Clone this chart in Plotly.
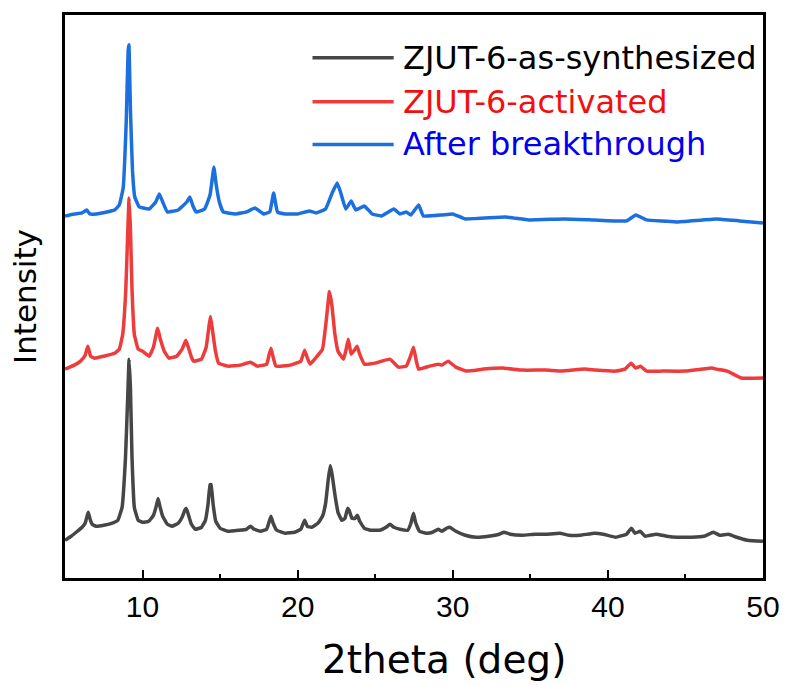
import plotly.graph_objects as go

# ---- data (2theta in deg, intensity in arbitrary units, stacked as displayed) ----
x_syn = [5.0, 5.4, 5.8, 6.1, 6.3, 6.42, 6.5, 6.6, 6.75, 7.0, 7.5, 8.0, 8.4, 8.68, 8.9, 9.05, 9.13, 9.22,
         9.32, 9.47, 9.72, 10.0, 10.4, 10.7, 10.88, 11.0, 11.12, 11.3, 11.6, 11.9, 12.3, 12.55, 12.72,
         12.82, 12.95, 13.15, 13.4, 13.8, 14.05, 14.22, 14.35, 14.42, 14.55, 14.72, 15.0, 15.5, 16.2,
         16.7, 16.95, 17.2, 17.6, 18.0, 18.15, 18.28, 18.42, 18.65, 19.2, 19.8, 20.2, 20.45, 20.62,
         20.9, 21.3, 21.6, 21.8, 21.98, 22.1, 22.22, 22.4, 22.6, 22.85, 23.05, 23.22, 23.32, 23.5,
         23.7, 23.85, 24.0, 24.3, 24.7, 25.3, 25.7, 25.95, 26.2, 26.6, 27.1, 27.3, 27.47, 27.6, 27.85,
         28.3, 28.7, 29.06, 29.3, 29.6, 29.8, 30.2, 30.8, 31.5, 32.3, 33.0, 33.3, 33.7, 34.5, 35.3,
         36.0, 36.9, 37.5, 38.2, 39.15, 39.7, 40.5, 41.2, 41.51, 41.75, 42.08, 42.4, 43.1, 43.8, 44.5,
         45.4, 46.2, 46.8, 47.2, 47.77, 48.3, 49.0, 50.0]
y_syn = [38, 42, 47, 51, 55, 62, 66, 60, 54, 52, 53, 55, 58, 71, 121, 185, 220, 190,
         121, 71, 58, 56, 57, 63, 72, 80, 72, 62, 54, 52, 55, 61, 68,
         70, 64, 54, 49, 51, 58, 74, 94, 94, 74, 57, 50, 47, 48,
         49, 52, 49, 47, 49, 56, 62, 55, 48, 45, 46, 49, 58, 52,
         51, 55, 62, 75, 100, 113, 104, 84, 66, 58, 60, 70, 68, 60,
         60, 63, 57, 50, 48, 48, 51, 54, 51, 49, 48, 55, 65, 56, 47,
         45, 46, 49, 47, 50, 51, 47, 43, 41, 42, 44, 46, 44, 43, 44,
         44, 45, 43, 43, 45, 44, 41, 44, 50, 45, 47, 42, 44, 42, 41,
         41, 42, 46, 43, 44, 41, 38, 37]

x_act = [5.0, 5.6, 6.0, 6.3, 6.47, 6.65, 6.9, 7.5, 8.2, 8.5, 8.72, 8.92, 9.05, 9.13, 9.22, 9.32, 9.47,
         9.72, 10.0, 10.43, 10.7, 10.97, 11.15, 11.4, 11.7, 12.2, 12.55, 12.79, 12.95, 13.15, 13.3,
         13.8, 14.1, 14.3, 14.38, 14.5, 14.7, 14.9, 15.5, 16.3, 16.95, 17.4, 18.0, 18.15, 18.28, 18.42,
         18.6, 19.5, 20.2, 20.45, 20.65, 20.8, 21.2, 21.6, 21.85, 22.05, 22.2, 22.4, 22.6, 22.95, 23.1,
         23.26, 23.45, 23.7, 23.83, 24.0, 24.3, 25.0, 25.94, 26.5, 27.0, 27.25, 27.47, 27.65, 27.8,
         28.5, 29.06, 29.3, 29.7, 30.2, 30.85, 32.0, 33.2, 34.5, 36.0, 37.0, 38.5, 39.2, 40.5, 41.1,
         41.5, 41.8, 42.1, 42.5, 43.5, 45.0, 46.7, 47.0, 47.7, 48.6, 50.0]
y_act = [210, 214, 218, 224, 233, 223, 221, 223, 226, 230, 245, 290, 350, 382, 350, 290, 245,
         230, 228, 223, 232, 251, 240, 228, 221, 223, 230, 239, 232, 222, 218,
         220, 232, 255, 263, 250, 228, 216, 213, 214, 217, 213, 215, 224, 231, 222,
         213, 214, 218, 229, 220, 215, 222, 230, 260, 288, 275, 245, 228, 220, 228,
         240, 225, 230, 233, 225, 215, 216, 220, 212, 213, 222, 232, 218, 210,
         213, 215, 214, 218, 212, 208, 210, 211, 209, 209, 208, 210, 209, 208, 210,
         216, 211, 213, 208, 208, 208, 211, 210, 208, 201, 201]

x_brk = [5.0, 5.6, 6.1, 6.4, 6.6, 7.0, 7.7, 8.2, 8.5, 8.75, 8.95, 9.07, 9.12, 9.22, 9.35, 9.5, 9.79,
         10.43, 10.85, 11.08, 11.3, 11.6, 12.3, 12.85, 13.05, 13.25, 13.45, 14.0, 14.35, 14.6, 14.75,
         14.95, 15.2, 16.0, 16.7, 17.25, 17.8, 18.2, 18.45, 18.7, 19.2, 20.0, 20.75, 21.2, 21.8, 22.25,
         22.55, 22.8, 23.1, 23.45, 23.75, 24.3, 24.8, 25.4, 26.2, 26.6, 27.0, 27.3, 27.8, 28.1, 29.3,
         30.0, 30.8, 33.4, 34.9, 37.2, 39.1, 41.2, 41.8, 42.5, 44.4, 47.0, 48.5, 50.0]
y_brk = [364, 366, 367, 370, 366, 366, 368, 370, 375, 392, 460, 530, 536, 470, 410, 383, 373,
         371, 378, 386, 378, 368, 370, 378, 383, 374, 368, 371, 385, 413, 395,
         378, 368, 366, 368, 372, 366, 368, 387, 368, 366, 366, 369, 367, 371, 388,
         397, 386, 371, 379, 370, 374, 366, 364, 371, 366, 368, 365, 375, 364, 365,
         366, 361, 363, 360, 361, 360, 359, 365, 360, 358, 361, 359, 357]

names = ["ZJUT-6-as-synthesized", "ZJUT-6-activated", "After breakthrough"]
line_colors = ["#464646", "#EE3B3B", "#1C6FDE"]
text_colors = ["#000000", "#F01010", "#0000EE"]
x_ticks = [10, 20, 30, 40, 50]

fig = go.Figure()
for xs, ys, nm, col in [(x_syn, y_syn, names[0], line_colors[0]),
                        (x_act, y_act, names[1], line_colors[1]),
                        (x_brk, y_brk, names[2], line_colors[2])]:
    fig.add_trace(go.Scatter(x=xs, y=ys, mode="lines", name=nm,
                             line=dict(color=col, width=3.5, shape="spline", smoothing=0.3),
                             showlegend=False))

# manual legend (coloured labels and long sample lines as in the original)
leg_y = [0.924, 0.846, 0.770]
for i in range(3):
    fig.add_shape(type="line", xref="paper", yref="paper",
                  x0=0.3546, x1=0.4709, y0=leg_y[i], y1=leg_y[i],
                  line=dict(color=line_colors[i], width=3.5))
    fig.add_annotation(xref="paper", yref="paper", x=0.481, y=leg_y[i],
                       xanchor="left", yanchor="middle", showarrow=False,
                       text=names[i], font=dict(color=text_colors[i], size=32,
                                                family="DejaVu Sans"))

# x-axis title (placed as in the original, slightly right of centre)
fig.add_annotation(xref="paper", yref="paper", x=0.543, y=-0.145,
                   xanchor="center", yanchor="middle", showarrow=False,
                   text="2theta (deg)", font=dict(size=39, family="DejaVu Sans", color="black"))

fig.update_layout(
    width=792, height=686,
    margin=dict(l=65, r=22, t=12, b=108),
    plot_bgcolor="white", paper_bgcolor="white",
    font=dict(family="Liberation Sans, Arial", color="black"),
    xaxis=dict(range=[5, 50], tickvals=x_ticks, ticktext=[str(v) for v in x_ticks],
               showline=True, mirror=True, linecolor="black", linewidth=2.5,
               ticks="inside", ticklen=8, tickwidth=2, tickcolor="black",
               minor=dict(tickvals=[15, 25, 35, 45], ticks="inside", ticklen=4,
                          tickwidth=2, tickcolor="black"),
               showgrid=False, zeroline=False,
               tickfont=dict(size=30)),
    yaxis=dict(range=[0, 566], showline=True, mirror=True, linecolor="black", linewidth=2.5,
               ticks="", showticklabels=False, showgrid=False, zeroline=False,
               title=dict(text="Intensity", font=dict(size=31, family="DejaVu Sans"),
                          standoff=17)),
)

fig.write_html("out.html")
